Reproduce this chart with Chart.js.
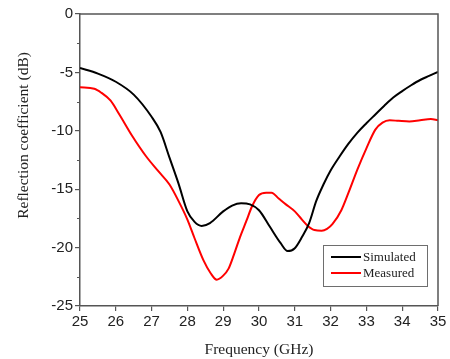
<!DOCTYPE html>
<html>
<head>
<meta charset="utf-8">
<script src="https://cdn.jsdelivr.net/npm/chart.js@4"></script>
<style>
  html, body { margin: 0; padding: 0; background: #fff; }
  #wrap { width: 450px; height: 359px; position: relative; }
</style>
</head>
<body>
<div id="wrap"><canvas id="c"></canvas></div>
<script>
// Frequency sweep (GHz) and reflection coefficient (dB)
const freqSim = [25, 25.5, 26, 26.5, 27, 27.25, 27.5, 27.75, 28, 28.2, 28.4, 28.63, 29, 29.25, 29.5, 29.75, 30, 30.3, 30.6, 30.8, 31, 31.2, 31.4, 31.6, 31.8, 32, 32.25, 32.5, 32.75, 33, 33.25, 33.5, 33.75, 34, 34.25, 34.5, 34.75, 35];
const simulated = [-4.62, -5.1, -5.8, -6.9, -8.8, -10.1, -12.3, -14.5, -16.9, -17.8, -18.15, -17.9, -16.9, -16.4, -16.2, -16.3, -16.8, -18.2, -19.6, -20.3, -20.05, -19.1, -17.9, -16.0, -14.6, -13.4, -12.2, -11.1, -10.15, -9.35, -8.6, -7.85, -7.15, -6.6, -6.1, -5.65, -5.3, -4.95];

const freqMeas = [25, 25.4, 25.6, 25.85, 26.1, 26.45, 26.85, 27.2, 27.5, 27.75, 28, 28.2, 28.45, 28.65, 28.82, 29, 29.15, 29.3, 29.47, 29.65, 29.8, 30, 30.2, 30.35, 30.55, 30.75, 31, 31.2, 31.35, 31.55, 31.75, 31.9, 32.05, 32.3, 32.5, 32.75, 33, 33.25, 33.45, 33.65, 33.9, 34.2, 34.5, 34.8, 35];
const measured = [-6.28, -6.4, -6.75, -7.4, -8.6, -10.4, -12.2, -13.5, -14.6, -16.0, -17.6, -19.2, -21.1, -22.2, -22.75, -22.4, -21.8, -20.6, -19.1, -17.7, -16.5, -15.5, -15.3, -15.3, -15.8, -16.3, -16.9, -17.6, -18.1, -18.5, -18.55, -18.4, -18.0, -16.8, -15.3, -13.3, -11.5, -9.9, -9.3, -9.1, -9.15, -9.2, -9.1, -9.0, -9.1];

const xTicks = [25, 26, 27, 28, 29, 30, 31, 32, 33, 34, 35];
const yTicks = [0, -5, -10, -15, -20, -25];
const yMinorTicks = [-2.5, -7.5, -12.5, -17.5, -22.5];

const seriesNames = ['Simulated', 'Measured'];
const seriesColors = ['#000000', '#ff0000'];
const xTitle = 'Frequency (GHz)';
const yTitle = 'Reflection coefficient (dB)';

const toPoints = (xs, ys) => xs.map((x, i) => ({ x: x, y: ys[i] }));

const axisColor = '#555555';

// Closes the frame on top/right, adds short minor ticks on y,
// writes the vertical axis title and draws the boxed legend
const framePlugin = {
  id: 'frame',
  afterDraw(chart) {
    const ctx = chart.ctx;
    const a = chart.chartArea;
    const ys = chart.scales.y;
    ctx.save();
    ctx.strokeStyle = axisColor;
    ctx.lineWidth = 1.5;
    ctx.beginPath();
    ctx.moveTo(a.left, a.top);
    ctx.lineTo(a.right, a.top);
    ctx.lineTo(a.right, a.bottom);
    ctx.stroke();
    // minor ticks
    ctx.lineWidth = 1.2;
    ctx.beginPath();
    yMinorTicks.forEach(v => {
      const py = Math.round(ys.getPixelForValue(v)) + 0.5;
      ctx.moveTo(a.left, py);
      ctx.lineTo(a.left - 3, py);
    });
    ctx.stroke();

    // vertical axis title
    ctx.save();
    ctx.translate(24, ys.getPixelForValue(-10.4));
    ctx.rotate(-Math.PI / 2);
    ctx.font = '15.5px "Liberation Serif", serif';
    ctx.fillStyle = '#222';
    ctx.textAlign = 'center';
    ctx.textBaseline = 'middle';
    ctx.fillText(yTitle, 0, 0);
    ctx.restore();

    // legend box
    const bw = 104, bh = 41;
    const bx = a.right - 11 - bw, by = a.bottom - 20 - bh;
    ctx.fillStyle = '#fff';
    ctx.fillRect(bx, by, bw, bh);
    ctx.strokeStyle = '#6e6e6e';
    ctx.lineWidth = 1;
    ctx.strokeRect(Math.round(bx) + 0.5, Math.round(by) + 0.5, bw, bh);
    ctx.font = '13px "Liberation Serif", serif';
    ctx.textBaseline = 'middle';
    chart.data.datasets.forEach((ds, i) => {
      const ly = by + 12 + i * 16;
      ctx.strokeStyle = ds.borderColor;
      ctx.lineWidth = 2;
      ctx.beginPath();
      ctx.moveTo(bx + 8, ly);
      ctx.lineTo(bx + 38, ly);
      ctx.stroke();
      ctx.fillStyle = '#222';
      ctx.fillText(ds.label, bx + 40, ly + 1);
    });
    ctx.restore();
  }
};

new Chart(document.getElementById('c'), {
  type: 'line',
  data: {
    datasets: [
      {
        label: seriesNames[0],
        data: toPoints(freqSim, simulated),
        borderColor: seriesColors[0],
        backgroundColor: seriesColors[0],
        borderWidth: 2,
        pointRadius: 0,
        cubicInterpolationMode: 'monotone',
        fill: false
      },
      {
        label: seriesNames[1],
        data: toPoints(freqMeas, measured),
        borderColor: seriesColors[1],
        backgroundColor: seriesColors[1],
        borderWidth: 2,
        pointRadius: 0,
        cubicInterpolationMode: 'monotone',
        fill: false
      }
    ]
  },
  options: {
    responsive: true,
    maintainAspectRatio: false,
    animation: false,
    events: [],
    layout: { padding: { left: 0, top: 14, right: 12, bottom: 0 } },
    plugins: {
      legend: { display: false },
      tooltip: { enabled: false }
    },
    scales: {
      x: {
        type: 'linear',
        min: 25,
        max: 35,
        afterBuildTicks: s => { s.ticks = xTicks.map(v => ({ value: v })); },
        afterFit: s => { s.height = 53; },
        border: { display: true, color: axisColor, width: 1.5 },
        grid: { drawOnChartArea: false, drawTicks: true, tickLength: 5, color: axisColor, lineWidth: 1.2 },
        ticks: {
          color: '#222',
          padding: 2,
          maxRotation: 0,
          font: { family: '"Liberation Sans", Arial, sans-serif', size: 15 }
        },
        title: {
          display: true,
          text: xTitle,
          color: '#222',
          padding: { top: 6, bottom: 0 },
          font: { family: '"Liberation Serif", serif', size: 15.5 }
        }
      },
      y: {
        type: 'linear',
        min: -25,
        max: 0,
        afterBuildTicks: s => { s.ticks = yTicks.map(v => ({ value: v })); },
        afterFit: s => { s.width = 80; },
        border: { display: true, color: axisColor, width: 1.5 },
        grid: { drawOnChartArea: false, drawTicks: true, tickLength: 5, color: axisColor, lineWidth: 1.2 },
        ticks: {
          color: '#222',
          padding: 2,
          font: { family: '"Liberation Sans", Arial, sans-serif', size: 15 }
        },
        title: { display: false }
      }
    }
  },
  plugins: [framePlugin]
});
</script>
</body>
</html>
